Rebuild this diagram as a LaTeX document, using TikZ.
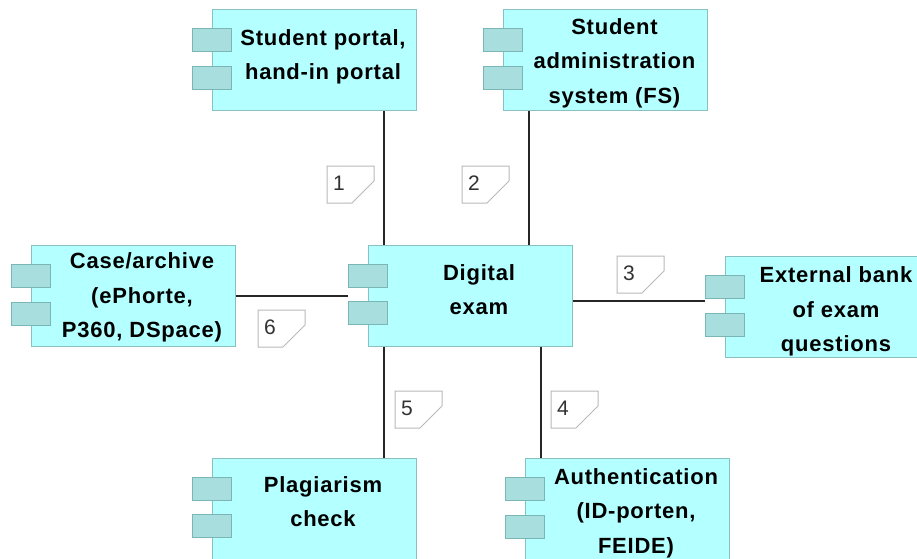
\documentclass[tikz,border=0pt]{standalone}
\usepackage{fontspec}
\setmainfont{Liberation Sans}
\usetikzlibrary{positioning}

\definecolor{compfill}{RGB}{180,255,255}
\definecolor{compline}{RGB}{138,192,192}
\definecolor{portfill}{RGB}{168,222,222}
\definecolor{portline}{RGB}{122,182,182}
\definecolor{noteline}{RGB}{185,185,185}
\definecolor{notetext}{RGB}{50,50,50}

% component: box, two ports on the left edge, label (optional arg = label shift)
\newcommand{\compbox}[5][-2]{%
	\node[comp] (#2) at (#3,#4) {};
	\node[port] (#2-p1) at ([yshift=20pt]#2.west) {};
	\node[port] (#2-p2) at ([yshift=-17.5pt]#2.west) {};
	\node[comptext] (#2-txt) at ([xshift=9pt,yshift=#1pt]#2.center) {#5};
}
% numbered note with folded corner, (x,y) = top left
\newcommand{\numnote}[4]{%
	\draw[notebox] (#2,#3) -- ++(47,0) -- ++(0,15) -- ++(-22,22) -- ++(-25,0) -- cycle;
	\node[notenum] (#1) at (#2+12,#3+17) {#4};
}

\begin{document}
\begin{tikzpicture}[x=1pt,y=-1pt,
	comp/.style={draw=compline, fill=compfill, line width=1pt, minimum width=204pt, minimum height=101pt, inner sep=0pt},
	port/.style={draw=portline, fill=portfill, line width=1pt, minimum width=39pt, minimum height=23pt, inner sep=0pt},
	comptext/.style={align=center, font=\bfseries\fontsize{22}{34.5}\selectfont\addfontfeature{LetterSpace=3.5}},
	notebox/.style={draw=noteline, fill=white, line width=1pt},
	notenum/.style={text=notetext, font=\fontsize{21}{21}\selectfont, inner sep=0pt},
	conn/.style={line width=1.3pt, black!85}]
	\useasboundingbox (0,0) rectangle (917,558);

	\compbox[3]{portal}{314}{60}{Student portal,\\hand-in portal}
	\compbox[-3]{admin}{605.5}{60}{Student\\administration\\system (FS)}
	\compbox[6]{exam}{470}{295.5}{Digital\\exam}
	\compbox[-4.5]{bank}{827}{307}{External bank\\of exam\\questions}
	\compbox[-1.5]{case}{133}{296}{Case/archive\\(ePhorte,\\P360, DSpace)}
	\compbox[7]{plag}{314}{508.5}{Plagiarism\\check}
	\compbox[-4]{auth}{627}{509}{Authentication\\(ID-porten,\\FEIDE)}

	% links to the exam system
	\draw[conn] ([xshift=70pt]portal.south) -- ([xshift=70pt]portal.south |- exam.north);
	\draw[conn] ([xshift=-76.5pt]admin.south) -- ([xshift=-76.5pt]admin.south |- exam.north);
	\draw[conn] ([yshift=-5.5pt]exam.east) -- ([yshift=-5.5pt]exam.east -| bank-p1.west);
	\draw[conn] ([xshift=71pt]exam.south) -- ([xshift=71pt]exam.south |- auth.north);
	\draw[conn] ([xshift=70pt]plag.north) -- ([xshift=70pt]plag.north |- exam.south);
	\draw[conn] (case.east) -- (case.east -| exam-p1.west);

	\numnote{n1}{327}{166}{1}
	\numnote{n2}{462}{166}{2}
	\numnote{n3}{617}{256}{3}
	\numnote{n4}{551}{391}{4}
	\numnote{n5}{395}{391}{5}
	\numnote{n6}{258}{310}{6}
\end{tikzpicture}
\end{document}
